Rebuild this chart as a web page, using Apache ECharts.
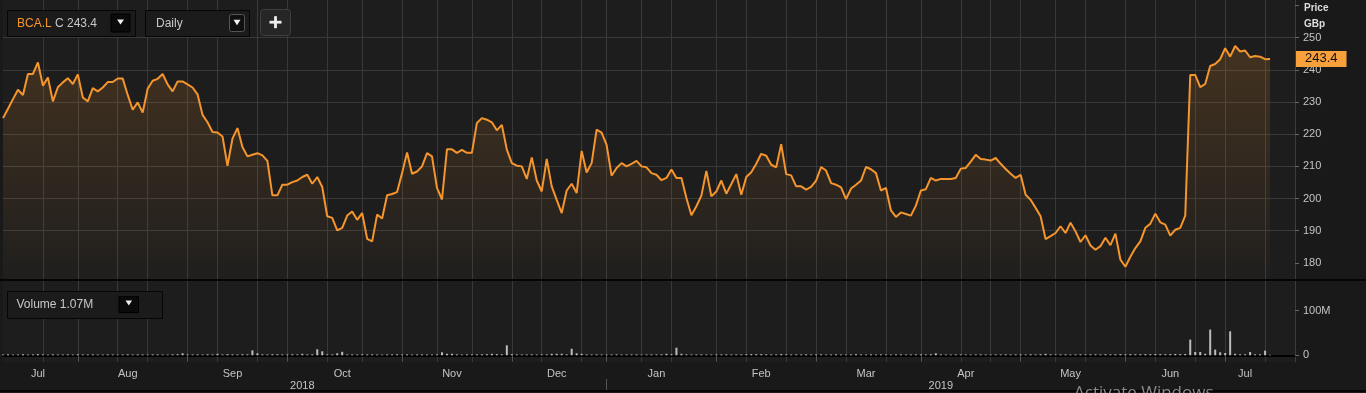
<!DOCTYPE html>
<html>
<head>
<meta charset="utf-8">
<script src="https://cdn.jsdelivr.net/npm/echarts@6/dist/echarts.min.js"></script>
<style>
html,body{margin:0;padding:0;background:#191919;overflow:hidden}
#c{width:1366px;height:393px}
</style>
</head>
<body>
<div id="c"></div>
<script>
// ---------- data ----------
const ticker = 'BCA.L';
const lastVolumeText = '1.07M';
const startDate = '2018-07-11';
const endDate = '2019-07-19';   // axis runs a few sessions past the last close
const holidays = ['2018-08-27','2018-12-25','2018-12-26','2019-01-01','2019-04-19','2019-04-22','2019-05-06','2019-05-27'];
const monthNames = ['Jan','Feb','Mar','Apr','May','Jun','Jul','Aug','Sep','Oct','Nov','Dec'];
const priceTicks = [180,190,200,210,220,230,240,250];
const priceGridTicks = [180,190,200,210,220,230,240,250,260];
const volumeTicks = [0,100];

// daily close, GBp
const price = [
225.0,227.9,230.9,233.8,232.2,238.7,238.7,242.3,235.1,237.6,230.2,234.6,236.1,237.4,235.6,
238.6,231.4,230.2,234.3,233.3,234.5,236.2,236.2,237.3,237.3,232.2,227.6,229.9,226.7,234.1,
236.6,237.2,238.7,235.5,233.3,236.4,236.4,235.5,234.5,232.4,226.0,223.7,220.7,220.5,219.3,
210.2,218.6,221.9,216.0,213.1,213.6,214.1,213.4,211.7,201.0,201.0,204.3,204.3,205.1,205.6,
206.7,207.4,204.6,206.7,203.6,194.5,194.0,190.1,190.9,194.7,196.0,193.4,195.5,187.5,186.7,
195.0,193.8,201.0,201.4,202.0,207.9,214.3,207.7,208.4,210.0,214.1,213.1,203.3,199.7,215.3,
215.3,214.2,215.1,214.2,214.2,223.5,225.0,224.5,223.7,221.2,222.9,215.2,211.0,210.2,210.0,
206.1,212.8,205.6,202.2,212.3,203.8,199.6,195.5,202.5,204.6,201.7,214.8,208.1,211.0,221.4,
220.5,216.7,207.1,209.5,211.0,210.0,210.8,211.7,210.0,209.7,207.9,207.4,205.7,206.4,209.0,
206.4,206.4,200.2,194.8,197.6,200.9,208.6,200.7,202.2,205.6,201.5,204.5,207.6,201.2,206.7,
208.2,210.8,213.9,213.3,210.5,209.7,216.9,207.6,207.2,203.8,203.8,202.8,203.6,205.6,209.8,
208.7,204.8,204.3,203.5,199.8,203.1,204.3,205.6,209.8,209.1,207.9,202.5,203.3,196.3,194.3,
195.7,195.2,194.7,197.8,202.5,202.9,206.4,205.6,206.1,206.1,206.1,206.4,209.3,209.5,211.5,
213.6,212.3,212.1,211.8,212.6,210.8,209.2,207.7,206.4,207.4,201.2,199.6,197.1,194.5,187.4,
188.3,189.3,191.4,189.3,192.5,189.8,186.5,188.6,185.4,184.1,185.2,187.8,185.5,189.1,181.0,
178.8,181.9,184.6,186.7,190.9,192.2,195.3,192.6,191.9,188.5,190.3,190.9,194.7,238.4,238.4,
234.6,235.6,241.2,241.8,243.3,246.7,244.1,247.4,245.7,246.0,243.9,244.3,244.1,243.3,243.4
];

// daily volume, millions of shares
const volumeM = [
1.9,2.1,1.6,1.8,2.4,1.7,2.0,2.6,1.9,1.5,2.2,1.8,1.7,2.0,1.6,2.3,1.9,1.8,2.1,1.7,
1.6,2.0,1.8,1.5,1.9,2.2,1.7,2.1,1.8,1.6,2.0,1.9,1.7,1.5,2.1,2.4,4.5,1.8,1.9,2.0,
1.7,2.2,1.9,3.4,1.8,2.6,2.1,1.9,2.3,2.0,11.2,4.5,2.1,1.8,2.4,2.2,1.9,2.0,2.3,1.8,
3.4,2.0,2.2,13.5,9.0,2.1,1.9,4.5,7.8,1.8,2.0,1.7,2.2,1.9,2.1,1.8,1.6,2.0,1.9,2.2,
1.8,2.0,1.7,1.9,2.1,1.8,1.6,2.0,6.7,3.4,3.4,2.0,1.8,2.1,1.9,2.0,2.2,2.4,3.4,2.6,
2.3,22.4,2.5,2.0,1.8,1.9,2.1,1.7,2.0,1.9,3.4,3.4,3.4,2.0,14.6,4.5,3.4,1.9,1.7,2.0,
1.8,1.6,1.9,2.0,1.7,1.8,1.9,2.1,1.6,1.8,2.0,1.9,2.2,3.4,2.4,17.0,3.4,2.0,1.8,1.9,
2.1,1.8,1.7,1.9,2.0,2.2,1.8,1.9,2.0,2.3,2.6,2.4,2.5,2.2,2.0,1.9,2.7,2.1,1.8,2.0,
1.9,2.3,1.8,2.0,2.1,1.7,1.9,2.2,1.8,1.7,2.0,2.4,1.9,1.8,2.1,1.9,2.0,1.8,1.7,2.0,
2.1,1.8,1.9,2.0,2.2,1.9,2.3,4.5,2.0,1.8,1.7,1.9,2.0,1.8,1.6,1.9,2.1,1.8,1.7,2.0,
1.9,2.2,1.8,2.0,2.1,1.9,2.3,2.0,2.4,3.4,2.1,1.9,2.0,2.2,1.8,2.0,2.3,1.9,2.1,2.2,
2.0,2.4,2.1,2.3,2.6,2.2,2.5,2.3,2.4,2.6,2.5,2.8,2.6,2.4,2.7,2.9,2.5,3.0,35.2,7.4,
7.4,3.4,57.6,12.8,6.7,5.2,53.8,3.4,2.2,2.2,7.4,2.2,2.2,10.5,1.07
];

// ---------- derived axis helpers ----------
function tradingDays(s, e, hol) {
  const hs = new Set(hol), out = [];
  const te = Date.parse(e + 'T00:00:00Z');
  for (let t = Date.parse(s + 'T00:00:00Z'); t <= te; t += 86400000) {
    const d = new Date(t), wd = d.getUTCDay(), iso = d.toISOString().slice(0, 10);
    if (wd === 0 || wd === 6 || hs.has(iso)) continue;
    out.push(iso);
  }
  return out;
}
const dates = tradingDays(startDate, endDate, holidays);
const nData = price.length;
const lastPrice = price[nData - 1];

function segments(keyFn, lastIdx) {
  const segs = [];
  for (let i = 0; i <= lastIdx; i++) {
    const k = keyFn(dates[i]);
    if (!segs.length || segs[segs.length - 1].key !== k) segs.push({ key: k, first: i, last: i });
    else segs[segs.length - 1].last = i;
  }
  return segs;
}
const monthSegs = segments(s => s.slice(0, 7), nData - 1);
const yearSegs = segments(s => s.slice(0, 4), nData - 1);
const monthLabelIdx = new Map(monthSegs.map(g => [Math.floor((g.first + g.last) / 2), monthNames[+g.key.slice(5, 7) - 1]]));
const monthTickIdx = new Set(monthSegs.slice(1).map(g => g.first));
const yearLabelIdx = new Map(yearSegs.map(g => [Math.round((g.first + g.last) / 2), g.key]));
const yearTickIdx = new Set(yearSegs.slice(1).map(g => g.first));
const gridIdx = new Set();
for (let i = 1; i < dates.length; i++) {
  const p = dates[i - 1], c = dates[i];
  const pd = +p.slice(8, 10), cd = +c.slice(8, 10);
  if (p.slice(0, 7) !== c.slice(0, 7) || (pd < 11 && cd >= 11) || (pd < 21 && cd >= 21)) gridIdx.add(i);
}

// ---------- chart ----------
const chart = echarts.init(document.getElementById('c'), null, { renderer: 'canvas' });
const gridLineColor = '#393939';
const labelColor = '#c4c4c4';
const font = 'Arial, "Liberation Sans", sans-serif';
const orange = '#f5952e';

const tri = (cx, cy, w, h) => [[cx - w / 2, cy - h / 2], [cx + w / 2, cy - h / 2], [cx, cy + h / 2]];

const option = {
  animation: false,
  backgroundColor: '#191919',
  textStyle: { fontFamily: font },
  grid: [
    { left: 3, right: 71, top: 0, height: 279, show: true, backgroundColor: '#1d1d1d', borderWidth: 0 },
    { left: 3, right: 71, top: 281, height: 81, show: true, backgroundColor: '#1d1d1d', borderWidth: 0 }
  ],
  xAxis: [
    {
      type: 'category', gridIndex: 0, data: dates, boundaryGap: false,
      axisLine: { show: false }, axisTick: { show: false }, axisLabel: { show: false },
      splitLine: { show: true, interval: i => gridIdx.has(i), lineStyle: { color: gridLineColor, width: 1 } }
    },
    {
      type: 'category', gridIndex: 1, data: dates, boundaryGap: false,
      axisLine: { show: true, lineStyle: { color: '#000', width: 2 } },
      axisTick: { show: true, interval: i => monthTickIdx.has(i), length: 6, lineStyle: { color: '#555' } },
      axisLabel: { show: true, interval: i => monthLabelIdx.has(i), formatter: (v, i) => monthLabelIdx.get(i) || '',
        color: labelColor, fontSize: 11, margin: 6, fontFamily: font },
      splitLine: { show: true, interval: i => gridIdx.has(i), lineStyle: { color: gridLineColor, width: 1 } }
    },
    {
      type: 'category', gridIndex: 1, data: dates, boundaryGap: false, position: 'bottom', offset: 17,
      axisLine: { show: false },
      axisTick: { show: true, interval: i => yearTickIdx.has(i), length: 11, lineStyle: { color: '#555' } },
      axisLabel: { show: true, interval: i => yearLabelIdx.has(i), formatter: (v, i) => yearLabelIdx.get(i) || '',
        color: labelColor, fontSize: 11, margin: 1, fontFamily: font },
      splitLine: { show: false }
    }
  ],
  yAxis: [
    {
      type: 'value', gridIndex: 0, position: 'right', min: 175, max: 261.7, splitNumber: 8, minInterval: 10, maxInterval: 10,
      axisLine: { show: true, lineStyle: { color: '#3c3c3c' } },
      axisTick: { show: true, length: 4, lineStyle: { color: '#666' }, customValues: priceGridTicks },
      axisLabel: { customValues: priceTicks, formatter: v => (priceTicks.indexOf(v) >= 0 ? String(v) : ''),
        color: labelColor, fontSize: 11, margin: 8, fontFamily: font },
      splitLine: { show: true, showMinLine: false, showMaxLine: false, lineStyle: { color: gridLineColor, width: 1 } }
    },
    {
      type: 'value', gridIndex: 1, position: 'right', min: -15, max: 166.6, splitNumber: 2, minInterval: 100, maxInterval: 100,
      axisLine: { show: true, lineStyle: { color: '#3c3c3c' } },
      axisTick: { show: true, length: 4, lineStyle: { color: '#666' }, customValues: volumeTicks },
      axisLabel: { customValues: volumeTicks, formatter: v => (v === 0 ? '0' : (volumeTicks.indexOf(v) >= 0 ? v + 'M' : '')),
        color: labelColor, fontSize: 11, margin: 8, fontFamily: font },
      splitLine: { show: true, showMinLine: false, showMaxLine: false, lineStyle: { color: gridLineColor, width: 1 } }
    }
  ],
  series: [
    {
      type: 'line', xAxisIndex: 0, yAxisIndex: 0, data: price, symbol: 'none', silent: true,
      lineStyle: { color: orange, width: 2 },
      areaStyle: {
        color: new echarts.graphic.LinearGradient(0, 0, 0, 1, [
          { offset: 0, color: 'rgba(245,149,46,0.25)' },
          { offset: 1, color: 'rgba(245,149,46,0.02)' }
        ])
      },
      markLine: {
        silent: true, symbol: ['none', 'none'], animation: false,
        lineStyle: { color: 'rgba(0,0,0,0)', width: 1 },
        label: { show: true, position: 'end', formatter: String(lastPrice), color: '#111', backgroundColor: '#f8a03c',
          fontSize: 13, fontFamily: font, padding: [2, 9, 1, 9], distance: 1 },
        data: [{ yAxis: lastPrice }]
      }
    },
    {
      type: 'bar', xAxisIndex: 1, yAxisIndex: 1, data: volumeM, barWidth: 2, silent: true,
      itemStyle: { color: '#bdbdbd' }
    }
  ],
  graphic: [
    // panel separators
    { type: 'rect', z: 50, shape: { x: 0, y: 279, width: 1366, height: 2 }, style: { fill: '#050505' } },
    { type: 'rect', z: 50, shape: { x: 0, y: 390, width: 1366, height: 2 }, style: { fill: '#050505' } },
    // instrument box
    { type: 'rect', z: 100, shape: { x: 7.5, y: 10.5, width: 128, height: 26 }, style: { fill: '#1b1b1b', stroke: '#060606', lineWidth: 1 } },
    { type: 'text', z: 101, x: 17, y: 23.5, style: { text: ticker, fill: orange, font: '12px ' + font, verticalAlign: 'middle' } },
    { type: 'text', z: 101, x: 55, y: 23.5, style: { text: 'C ' + lastPrice, fill: '#c8c8c8', font: '12px ' + font, verticalAlign: 'middle' } },
    { type: 'rect', z: 101, shape: { x: 111, y: 14, width: 19, height: 18 }, style: { fill: '#0b0b0b', stroke: '#000', lineWidth: 1 } },
    { type: 'polygon', z: 102, shape: { points: tri(120.5, 22, 7, 5) }, style: { fill: '#f0f0f0' } },
    // interval box
    { type: 'rect', z: 100, shape: { x: 145.5, y: 10.5, width: 104, height: 26 }, style: { fill: '#1b1b1b', stroke: '#060606', lineWidth: 1 } },
    { type: 'text', z: 101, x: 156, y: 23.5, style: { text: 'Daily', fill: '#c8c8c8', font: '12px ' + font, verticalAlign: 'middle' } },
    { type: 'rect', z: 101, shape: { x: 229.5, y: 14.5, width: 15, height: 17, r: 2 }, style: { fill: '#101010', stroke: '#555', lineWidth: 1 } },
    { type: 'polygon', z: 102, shape: { points: tri(237, 22.5, 7, 5.5) }, style: { fill: '#f0f0f0' } },
    // add button
    { type: 'rect', z: 100, shape: { x: 260.5, y: 9.5, width: 30, height: 26, r: 3 }, style: { fill: '#262626', stroke: '#3e3e3e', lineWidth: 1 } },
    { type: 'rect', z: 101, shape: { x: 269.5, y: 20.8, width: 12, height: 2.8 }, style: { fill: '#eeeeee' } },
    { type: 'rect', z: 101, shape: { x: 274.1, y: 16.2, width: 2.8, height: 12 }, style: { fill: '#eeeeee' } },
    // volume legend
    { type: 'rect', z: 100, shape: { x: 7.5, y: 291.5, width: 155, height: 27 }, style: { fill: '#1b1b1b', stroke: '#060606', lineWidth: 1 } },
    { type: 'text', z: 101, x: 16.5, y: 305, style: { text: 'Volume ' + lastVolumeText, fill: '#c8c8c8', font: '12px ' + font, verticalAlign: 'middle' } },
    { type: 'rect', z: 101, shape: { x: 119, y: 296.5, width: 19.5, height: 16 }, style: { fill: '#0b0b0b', stroke: '#000', lineWidth: 1 } },
    { type: 'polygon', z: 102, shape: { points: tri(128.8, 303, 6.5, 5) }, style: { fill: '#f0f0f0' } },
    // axis title
    { type: 'text', z: 101, x: 1304, y: 8, style: { text: 'Price', fill: '#dddddd', font: 'bold 10px ' + font, verticalAlign: 'middle' } },
    { type: 'text', z: 101, x: 1304, y: 24, style: { text: 'GBp', fill: '#dddddd', font: 'bold 10px ' + font, verticalAlign: 'middle' } },
    // OS watermark visible in the screenshot
    { type: 'text', z: 120, x: 1074, y: 385, style: { text: 'Activate Windows', fill: '#8a8a8a', font: '17px "Open Sans", ' + font, verticalAlign: 'top' } }
  ]
};
chart.setOption(option);
</script>
</body>
</html>
